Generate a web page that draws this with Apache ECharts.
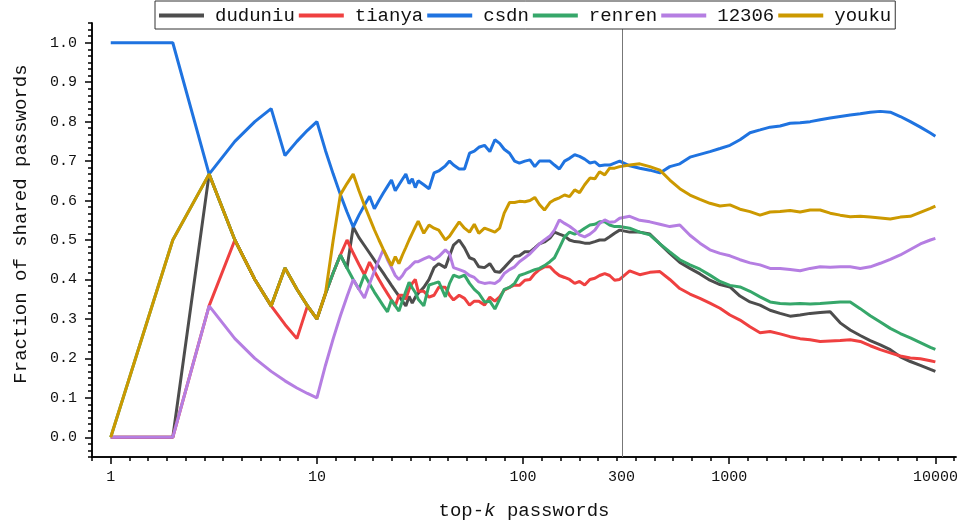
<!DOCTYPE html>
<html>
<head>
<meta charset="utf-8">
<title>top-k shared passwords</title>
<script src="https://cdn.jsdelivr.net/npm/echarts@6/dist/echarts.min.js"></script>
<style>
  html, body { margin: 0; padding: 0; background: #fff; }
  #chart { width: 961px; height: 527px; }
</style>
</head>
<body>
<div id="chart"></div>
<script>
// top-k values (x), shared by every series
const topK = [
  1, 2, 3, 4, 5, 6, 7, 8, 9, 10, 11, 12, 13, 14, 15, 16, 17, 18, 19, 20,
  21, 22, 23, 24, 25, 26, 27, 28, 29, 30,
  31, 33, 35, 37, 39, 42, 44, 46, 49, 52, 55, 58, 61, 65, 69, 73, 77, 81, 86, 91,
  96, 102, 108, 114, 120, 127, 135, 142, 150, 159, 168, 178, 188, 199, 211, 223, 235, 249, 263, 278,
  294, 329, 368, 412, 461, 515, 576, 645, 721, 806, 902, 1008, 1128, 1261, 1411, 1578, 1765, 1974, 2207, 2469,
  2761, 3088, 3453, 3862, 4320, 4831, 5404, 6044, 6760, 7560, 8456, 9456, 10000
]

const duduniu = [
  0, 0, .667, .5, .4, .333, .429, .375, .333, .3, .364, .417, .462, .429, .533, .506, .486, .467, .449, .432,
  .416, .4, .385, .371, .358, .345, .333, .357, .34, .355,
  .365, .38, .4, .43, .44, .43, .46, .487, .5, .48, .455, .45, .432, .43, .44, .42, .418, .43, .445, .458,
  .46, .47, .47, .48, .49, .495, .505, .52, .515, .51, .5, .496, .495, .492, .492, .496, .5, .5, .508, .517,
  .525, .52, .52, .515, .49, .466, .443, .428, .414, .398, .387, .381, .358, .343, .335, .322, .314, .307, .31, .314,
  .316, .318, .29, .272, .258, .245, .234, .222, .204, .192, .182, .172, .167
]

const tianya = [
  0, 0, .333, .5, .4, .333, .286, .25, .333, .3, .364, .417, .462, .5, .467, .438, .412, .444, .421, .4,
  .381, .364, .348, .333, .36, .36, .35, .375, .39, .4,
  .37, .37, .355, .36, .38, .38, .36, .348, .36, .352, .335, .345, .345, .335, .355, .345, .356, .373, .38, .386,
  .385, .398, .4, .415, .425, .432, .432, .42, .41, .405, .4, .39, .395, .386, .4, .403, .41, .415, .41, .398,
  .4, .422, .412, .418, .42, .4, .377, .363, .352, .34, .327, .31, .297, .28, .265, .268, .262, .255, .25, .247,
  .243, .244, .245, .247, .243, .232, .222, .214, .206, .201, .199, .194, .191
]

const csdn = [
  1, 1, .667, .75, .8, .833, .714, .75, .778, .8, .727, .667, .615, .571, .533, .563, .588, .611, .579, .6,
  .619, .636, .652, .625, .64, .654, .667, .643, .655, .633,
  .65, .64, .63, .67, .675, .688, .7, .69, .68, .68, .72, .725, .735, .74, .724, .754, .745, .73, .72, .7,
  .695, .7, .703, .686, .7, .7, .7, .69, .68, .7, .707, .716, .712, .705, .695, .698, .688, .69, .69, .695,
  .7, .688, .682, .677, .67, .686, .693, .71, .717, .724, .732, .74, .754, .772, .779, .786, .789, .796, .797, .8,
  .805, .809, .813, .817, .82, .824, .826, .824, .813, .8, .786, .771, .763
]

const renren = [
  0, .5, .667, .5, .4, .333, .429, .375, .333, .3, .364, .417, .462, .429, .4, .375, .412, .389, .368, .35,
  .333, .318, .348, .333, .32, .346, .37, .393, .379, .367,
  .35, .333, .386, .39, .394, .356, .39, .411, .405, .411, .39, .375, .365, .343, .345, .325, .35, .375, .38, .39,
  .41, .415, .42, .425, .428, .435, .445, .455, .48, .508, .52, .515, .521, .53, .538, .54, .546, .546, .538, .534,
  .534, .53, .52, .513, .49, .47, .45, .437, .426, .411, .395, .385, .381, .37, .356, .343, .339, .338, .339, .338,
  .339, .341, .343, .343, .326, .308, .292, .276, .263, .252, .24, .228, .223
]

const s12306 = [
  0, 0, .333, .25, .2, .167, .143, .125, .111, .1, .182, .25, .308, .357, .4, .375, .353, .389, .421, .45,
  .476, .45, .43, .41, .4, .41, .424, .43, .438, .445,
  .445, .452, .458, .45, .458, .475, .465, .43, .425, .42, .41, .405, .394, .39, .392, .39, .398, .415, .425, .432,
  .445, .455, .465, .478, .49, .5, .51, .525, .551, .542, .535, .525, .513, .508, .515, .525, .542, .551, .545, .546,
  .555, .56, .55, .546, .54, .534, .538, .512, .492, .475, .466, .46, .45, .442, .437, .428, .428, .425, .422, .428,
  .432, .431, .432, .432, .428, .432, .441, .451, .462, .476, .49, .5, .504
]

const youku = [
  0, .5, .667, .5, .4, .333, .429, .375, .333, .3, .364, .5, .615, .643, .667, .625, .588, .556, .526, .5,
  .476, .455, .435, .458, .44, .462, .481, .5, .517, .533,
  .548, .517, .538, .53, .525, .5, .51, .525, .546, .53, .52, .54, .517, .53, .525, .52, .53, .568, .595, .595,
  .598, .597, .6, .608, .59, .576, .595, .602, .607, .614, .61, .627, .62, .64, .657, .655, .673, .665, .682, .682,
  .686, .69, .693, .686, .677, .652, .63, .614, .603, .593, .586, .589, .578, .572, .563, .571, .572, .575, .571, .576,
  .576, .568, .563, .559, .56, .558, .556, .553, .558, .56, .57, .58, .586
]

const seriesNames = ['duduniu', 'tianya', 'csdn', 'renren', '12306', 'youku']
const seriesValues = [duduniu, tianya, csdn, renren, s12306, youku]
const seriesColors = ['#4d4d4d', '#ef4040', '#1f73e0', '#36a76a', '#b57ee2', '#cc9900']

// tick positions
const xMajor = [1, 10, 100, 1000, 10000]
const xLabels = [1, 10, 100, 300, 1000, 10000]
const yLabels = [0, 0.1, 0.2, 0.3, 0.4, 0.5, 0.6, 0.7, 0.8, 0.9, 1.0]
const markK = 300

const FONT = 'Liberation Mono'
const lg = Math.log10

// minor ticks: 11 steps per decade on x, 6 steps per 0.1 on y
const xMinor = []
for (let i = -1; i <= 45; i++) xMinor.push(i / 11)
const yMinor = []
for (let i = -3; i <= 63; i++) yMinor.push(i / 60)

const xMin = -1 / 11
const xMax = 4.1

const chart = echarts.init(document.getElementById('chart'))

const series = seriesNames.map((name, si) => {
  const s = {
    name: name,
    type: 'line',
    showSymbol: false,
    symbol: 'none',
    data: topK.map((k, i) => [lg(k), seriesValues[si][i]]),
    lineStyle: { width: 3, color: seriesColors[si] },
    itemStyle: { color: seriesColors[si] }
  }
  if (si === 0) {
    s.markLine = {
      silent: true,
      symbol: 'none',
      label: { show: false },
      lineStyle: { color: '#777', width: 1, type: 'solid' },
      data: [{ xAxis: lg(markK) }]
    }
  }
  return s
})

const tickStyle = { color: '#000', width: 1.5 }

chart.setOption({
  animation: false,
  backgroundColor: '#fff',
  textStyle: { fontFamily: FONT },
  legend: {
    data: seriesNames,
    left: 155,
    top: 1,
    icon: 'rect',
    itemWidth: 45,
    itemHeight: 4,
    itemGap: 4,
    padding: [5, 4, 4, 4],
    borderColor: '#333',
    borderWidth: 1,
    backgroundColor: '#fff',
    z: 10,
    textStyle: { fontFamily: FONT, fontSize: 19, color: '#111', padding: [0, 0, 0, 6] }
  },
  grid: { left: 92, right: 5, top: 23, bottom: 70, containLabel: false },
  xAxis: [
    {
      type: 'value',
      min: xMin,
      max: xMax,
      splitLine: { show: false },
      axisLine: { show: true, onZero: false, lineStyle: { color: '#000', width: 1.5 } },
      axisTick: { show: true, customValues: xMajor.map(lg), length: 7, lineStyle: tickStyle },
      axisLabel: {
        customValues: xLabels.map(lg),
        formatter: v => String(Math.round(Math.pow(10, v))),
        fontFamily: FONT,
        fontSize: 15,
        color: '#111',
        margin: 13
      },
      name: 'top-{i|k} passwords',
      nameLocation: 'middle',
      nameGap: 44,
      nameTextStyle: {
        fontFamily: FONT,
        fontSize: 19,
        color: '#111',
        rich: { i: { fontFamily: FONT, fontSize: 19, fontStyle: 'italic', color: '#111' } }
      }
    },
    {
      type: 'value',
      position: 'bottom',
      min: xMin,
      max: xMax,
      splitLine: { show: false },
      axisLine: { show: true, onZero: false, lineStyle: { color: '#000', width: 1.5 } },
      axisTick: { show: true, customValues: xMinor, length: 4, lineStyle: tickStyle },
      axisLabel: { show: false }
    }
  ],
  yAxis: [
    {
      type: 'value',
      min: -0.05,
      max: 1.05,
      splitLine: { show: false },
      axisLine: { show: true, onZero: false, lineStyle: { color: '#000', width: 1.5 } },
      axisTick: { show: true, customValues: yLabels, length: 7, lineStyle: tickStyle },
      axisLabel: {
        customValues: yLabels,
        formatter: v => v.toFixed(1),
        fontFamily: FONT,
        fontSize: 15,
        color: '#111',
        margin: 15
      },
      name: 'Fraction of shared passwords',
      nameLocation: 'middle',
      nameGap: 62,
      nameTextStyle: { fontFamily: FONT, fontSize: 19, color: '#111', padding: [0, 0, 0, 32] }
    },
    {
      type: 'value',
      position: 'left',
      min: -0.05,
      max: 1.05,
      splitLine: { show: false },
      axisLine: { show: true, onZero: false, lineStyle: { color: '#000', width: 1.5 } },
      axisTick: { show: true, customValues: yMinor, length: 4, lineStyle: tickStyle },
      axisLabel: { show: false }
    }
  ],
  series: series
})
</script>
</body>
</html>
